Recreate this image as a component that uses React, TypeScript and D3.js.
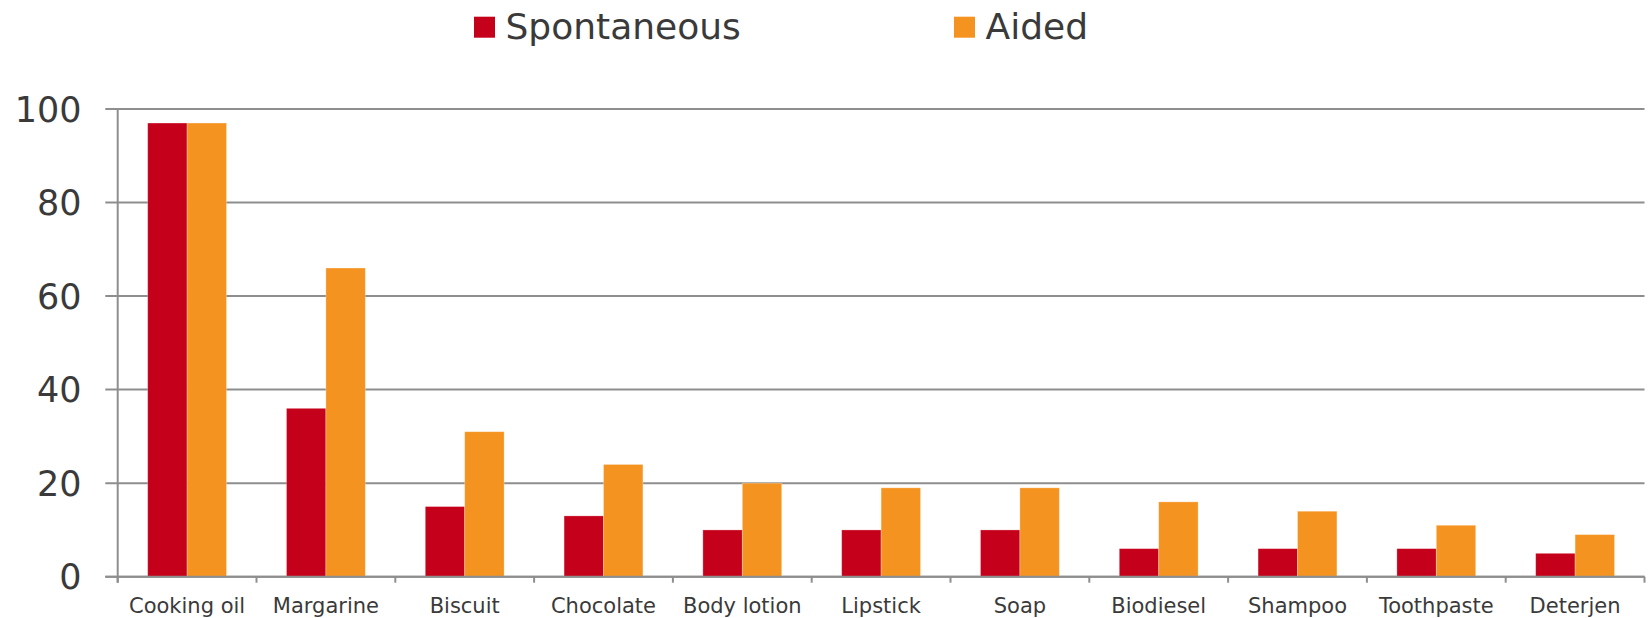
import React from "react";
import * as d3 from "d3";

const categories = [
  "Cooking oil",
  "Margarine",
  "Biscuit",
  "Chocolate",
  "Body lotion",
  "Lipstick",
  "Soap",
  "Biodiesel",
  "Shampoo",
  "Toothpaste",
  "Deterjen",
];
const spontaneous = [97, 36, 15, 13, 10, 10, 10, 6, 6, 6, 5];
const aided = [97, 66, 31, 24, 20, 19, 19, 16, 14, 11, 9];
const seriesNames = ["Spontaneous", "Aided"];
const seriesColors = ["#C5001A", "#F59320"];
const yTicks = [0, 20, 40, 60, 80, 100];

const WIDTH = 1649;
const HEIGHT = 618;
const FONT = "'DejaVu Sans', Verdana, sans-serif";
const TEXT = "#3a3a3a";
const GRID = "#8e8e8e";

export default function App() {
  const left = 117.7;
  const right = 1644.5;
  const bottom = 576.7;
  const top = 109;

  const x0 = d3
    .scaleBand<string>()
    .domain(categories)
    .range([left, right])
    .paddingInner(0.432)
    .paddingOuter(0.216);
  const x1 = d3
    .scaleBand<string>()
    .domain(seriesNames)
    .range([0, x0.bandwidth()]);
  const y = d3.scaleLinear().domain([0, 100]).range([bottom, top]);

  const step = x0.step();
  const series = [spontaneous, aided];
  const boundaries = d3.range(categories.length + 1).map((i) => left + i * step);

  const legendItems = [
    { name: seriesNames[0], color: seriesColors[0], x: 474 },
    { name: seriesNames[1], color: seriesColors[1], x: 954 },
  ];

  return (
    <svg
      width={WIDTH}
      height={HEIGHT}
      style={{ position: "absolute", left: 0, top: 0, background: "#fff" }}
    >
      {/* legend */}
      {legendItems.map((d) => (
        <g key={d.name}>
          <rect x={d.x} y={16.7} width={21} height={21} fill={d.color} />
          <text
            x={d.x + 31.5}
            y={39.3}
            fontFamily={FONT}
            fontSize={36}
            fill={TEXT}
          >
            {d.name}
          </text>
        </g>
      ))}

      {/* horizontal gridlines with tick stubs */}
      {yTicks.map((t) => (
        <g key={t}>
          <line
            x1={105.3}
            x2={right}
            y1={y(t)}
            y2={y(t)}
            stroke={GRID}
            strokeWidth={2}
          />
          <text
            x={81.5}
            y={y(t)}
            dy="0.36em"
            textAnchor="end"
            fontFamily={FONT}
            fontSize={35}
            fill={TEXT}
          >
            {t}
          </text>
        </g>
      ))}

      {/* bars */}
      {categories.map((c, i) => (
        <g key={c} transform={`translate(${x0(c)},0)`}>
          {series.map((vals, s) => (
            <rect
              key={s}
              x={x1(seriesNames[s])}
              y={y(vals[i])}
              width={x1.bandwidth()}
              height={y(0) - y(vals[i])}
              fill={seriesColors[s]}
              stroke="#ffffff"
              strokeOpacity={0.35}
              strokeWidth={0.8}
            />
          ))}
        </g>
      ))}

      {/* axes */}
      <line x1={left} x2={left} y1={top} y2={bottom + 6} stroke={GRID} strokeWidth={2} />
      <line x1={105.3} x2={right} y1={bottom} y2={bottom} stroke={GRID} strokeWidth={2} />
      {boundaries.map((bx, i) => (
        <line
          key={i}
          x1={bx}
          x2={bx}
          y1={bottom}
          y2={bottom + 6}
          stroke={GRID}
          strokeWidth={2}
        />
      ))}

      {/* category labels */}
      {categories.map((c) => (
        <text
          key={c}
          x={(x0(c) ?? 0) + x0.bandwidth() / 2}
          y={612.5}
          textAnchor="middle"
          fontFamily={FONT}
          fontSize={21}
          fill={TEXT}
        >
          {c}
        </text>
      ))}
    </svg>
  );
}
